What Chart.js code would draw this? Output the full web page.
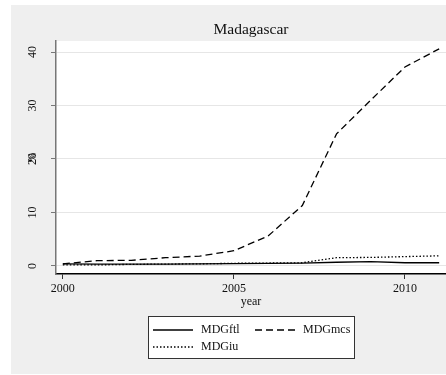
<!DOCTYPE html>
<html>
<head>
<meta charset="utf-8">
<script src="https://cdn.jsdelivr.net/npm/chart.js@4/dist/chart.umd.min.js"></script>
<style>
  html, body { margin: 0; padding: 0; background: #fff; }
  #wrap { width: 446px; height: 375px; }
</style>
</head>
<body>
<div id="wrap"><canvas id="chart" width="446" height="375"></canvas></div>
<script>
const title   = 'Madagascar';
const years   = [2000, 2001, 2002, 2003, 2004, 2005, 2006, 2007, 2008, 2009, 2010, 2011];
const ftl     = [0.4, 0.35, 0.35, 0.35, 0.4, 0.45, 0.5, 0.55, 0.7, 0.8, 0.6, 0.6];
const mcs     = [0.4, 1.0, 1.05, 1.55, 1.85, 2.85, 5.6, 11.3, 24.7, 31.0, 37.2, 40.6];
const iu      = [0.2, 0.2, 0.3, 0.35, 0.4, 0.5, 0.55, 0.6, 1.55, 1.6, 1.75, 1.9];
const xTicks  = [2000, 2005, 2010];
const yTicks  = [0, 10, 20, 30, 40];
const xTitle  = 'year';
const yTitle  = '%';

const SERIF = '"Liberation Serif", "DejaVu Serif", serif';
const pts = arr => years.map((y, i) => ({ x: y, y: arr[i] }));

// gray panel, title, axis titles, rotated y labels, legend box
const stataDecor = {
    id: 'stataDecor',
    beforeDraw(c) {
        const { ctx, chartArea: a } = c;
        ctx.save();
        ctx.fillStyle = '#efefef';
        ctx.fillRect(11, 5, c.width - 11, 369);
        ctx.fillStyle = '#fff';
        ctx.fillRect(a.left, a.top, a.right - a.left, a.bottom - a.top);
        ctx.restore();
    },
    afterDraw(c) {
        const { ctx, chartArea: a } = c;
        const ys = c.scales.y;
        const cx = (a.left + a.right) / 2;
        ctx.save();
        ctx.fillStyle = '#111';
        ctx.textAlign = 'center';
        ctx.textBaseline = 'middle';
        ctx.font = '15.5px ' + SERIF;
        ctx.fillText(title, cx, 30);

        ctx.font = '12px ' + SERIF;
        ctx.fillText(xTitle, cx, 302);
        for (const t of ys.ticks) {
            ctx.save();
            ctx.translate(33, ys.getPixelForValue(t.value));
            ctx.rotate(-Math.PI / 2);
            ctx.fillText(String(t.value), 0, 0);
            ctx.restore();
        }
        ctx.save();
        ctx.translate(33, (a.top + a.bottom) / 2);
        ctx.rotate(-Math.PI / 2);
        ctx.fillText(yTitle, 0, 0);
        ctx.restore();

        // legend
        const bx = cx - 103, by = 316, bw = 206, bh = 42;
        ctx.fillStyle = '#fff';
        ctx.fillRect(bx, by, bw, bh);
        ctx.strokeStyle = '#333';
        ctx.lineWidth = 1;
        ctx.strokeRect(bx + 0.5, by + 0.5, bw, bh);
        const slots = [[bx + 5, by + 14], [bx + 107, by + 14], [bx + 5, by + 31]];
        c.data.datasets.forEach((ds, i) => {
            const [sx, sy] = slots[i];
            ctx.beginPath();
            ctx.setLineDash(ds.borderDash || []);
            ctx.lineWidth = ds.borderWidth;
            ctx.strokeStyle = ds.borderColor;
            ctx.moveTo(sx, sy);
            ctx.lineTo(sx + 40, sy);
            ctx.stroke();
            ctx.setLineDash([]);
            ctx.fillStyle = '#111';
            ctx.textAlign = 'left';
            ctx.fillText(ds.label, sx + 48, sy);
        });
        ctx.restore();
    }
};

new Chart(document.getElementById('chart'), {
    type: 'line',
    data: {
        datasets: [
            { label: 'MDGftl', data: pts(ftl), borderColor: '#000', borderWidth: 1.3, borderDash: [] },
            { label: 'MDGmcs', data: pts(mcs), borderColor: '#000', borderWidth: 1.3, borderDash: [7, 4] },
            { label: 'MDGiu',  data: pts(iu),  borderColor: '#000', borderWidth: 1.3, borderDash: [1.5, 2] },
        ],
    },
    options: {
        responsive: false,
        animation: false,
        layout: { padding: { left: 11, right: 0, top: 41, bottom: 0 } },
        elements: { point: { radius: 0 }, line: { tension: 0 } },
        plugins: { legend: { display: false }, title: { display: false }, tooltip: { enabled: false } },
        scales: {
            x: {
                type: 'linear',
                min: 1999.8,
                max: 2011.2,
                afterBuildTicks: s => { s.ticks = xTicks.map(v => ({ value: v })); },
                afterFit: s => { s.height = 101; },
                grid: { drawOnChartArea: false, tickLength: 5, tickColor: '#333', tickWidth: 1 },
                border: { color: '#000', width: 1.5 },
                ticks: { color: '#111', font: { family: SERIF, size: 12 }, padding: 3, callback: v => String(v) },
            },
            y: {
                min: -1.5,
                max: 42.06,
                afterBuildTicks: s => { s.ticks = yTicks.map(v => ({ value: v })); },
                afterFit: s => { s.width = 45; },
                grid: { color: '#e6e6e6', lineWidth: 1, tickLength: 5, tickColor: '#777' },
                border: { color: '#777', width: 1.5 },
                ticks: { display: false },
            },
        },
    },
    plugins: [stataDecor],
});
</script>
</body>
</html>
